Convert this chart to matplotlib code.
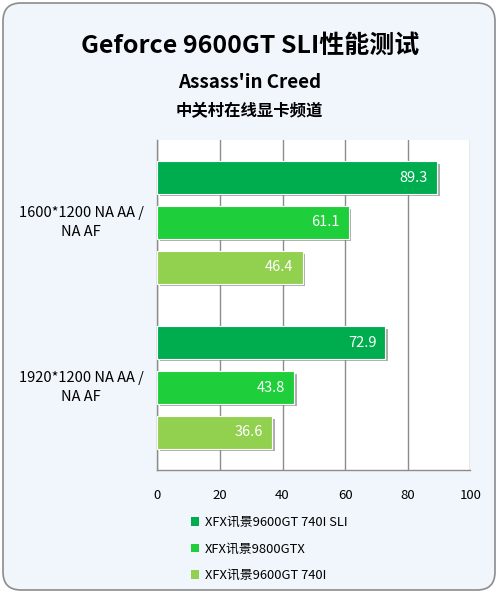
import matplotlib
matplotlib.use('Agg')
import matplotlib.pyplot as plt
import matplotlib.patheffects as pe
from matplotlib.patches import FancyBboxPatch, Patch
from matplotlib.transforms import blended_transform_factory

plt.rcParams['font.family'] = ['Noto Sans CJK SC', 'DejaVu Sans']

categories = ['1600*1200 NA AA /\nNA AF', '1920*1200 NA AA /\nNA AF']
series_names = ['XFX讯景9600GT 740I SLI', 'XFX讯景9800GTX', 'XFX讯景9600GT 740I']
sli_vals = [89.3, 72.9]
gtx_vals = [61.1, 43.8]
single_vals = [46.4, 36.6]
colors = ['#00AD4E', '#1ECE3A', '#92D050']

fig = plt.figure(figsize=(4.98, 5.93), dpi=100, facecolor='white')

# rounded light-blue background panel
bg = FancyBboxPatch((0.03, 0.03), 4.92, 5.87, boxstyle='round,pad=0,rounding_size=0.18',
                    transform=fig.dpi_scale_trans, facecolor='#F0F6FB',
                    edgecolor='#8C8C8C', linewidth=1.2, zorder=-10)
fig.patches.append(bg)

fig.text(0.502, 1 - 46/593, 'Geforce 9600GT SLI性能测试', ha='center', va='center',
         fontsize=18, fontweight='bold')
fig.text(0.501, 1 - 82/593, "Assass'in Creed", ha='center', va='center',
         fontsize=13.5, fontweight='bold')
fig.text(0.501, 1 - 111/593, '中关村在线显卡频道', ha='center', va='center',
         fontsize=11.8, fontweight='bold')

ax = fig.add_axes([157.3/498, 123/593, 313/498, 330/593])
ax.set_facecolor('white')

h = 0.194
step = 0.2727
shadow = [pe.withSimplePatchShadow(offset=(2, -2), shadow_rgbFace='#777777', alpha=0.6)]
all_vals = [sli_vals, gtx_vals, single_vals]
for k, vals in enumerate(all_vals):
    ys = [i + (k - 1) * step for i in range(len(categories))]
    bars = ax.barh(ys, vals, height=h, color=colors[k], edgecolor='white',
                   linewidth=0.8, zorder=3, path_effects=shadow)
    for y, v in zip(ys, vals):
        ax.annotate('%.1f' % v, (v, y), xytext=(-9, 0), textcoords='offset pixels',
                    ha='right', va='center', color='white', fontsize=10.5, zorder=4)

ax.set_xlim(0, 100)
ax.set_ylim(1.5, -0.5)
ax.set_xticks([0, 20, 40, 60, 80, 100])
ax.grid(axis='x', color='#8C8C8C', linewidth=1, zorder=0)
ax.tick_params(axis='x', length=0, pad=14, labelsize=9.5)
ax.set_yticks([])
for s in ['top', 'right']:
    ax.spines[s].set_visible(False)
for s in ['left', 'bottom']:
    ax.spines[s].set_color('#8C8C8C')
    ax.spines[s].set_linewidth(1)

tr = blended_transform_factory(fig.transFigure, ax.transData)
for i, c in enumerate(categories):
    ax.text(81/498, i, c, transform=tr, ha='center', va='center', fontsize=10.5,
            linespacing=1.5)

handles = [Patch(facecolor=colors[k], label=series_names[k]) for k in range(3)]
fig.legend(handles=handles, loc='upper left', bbox_to_anchor=(191/498, 1 - 516/593),
           frameon=False, handlelength=0.6, handleheight=0.6, handletextpad=0.45,
           labelspacing=1.05, fontsize=9.3, borderpad=0, borderaxespad=0)

fig.savefig('out.png', dpi=100, facecolor='white')
